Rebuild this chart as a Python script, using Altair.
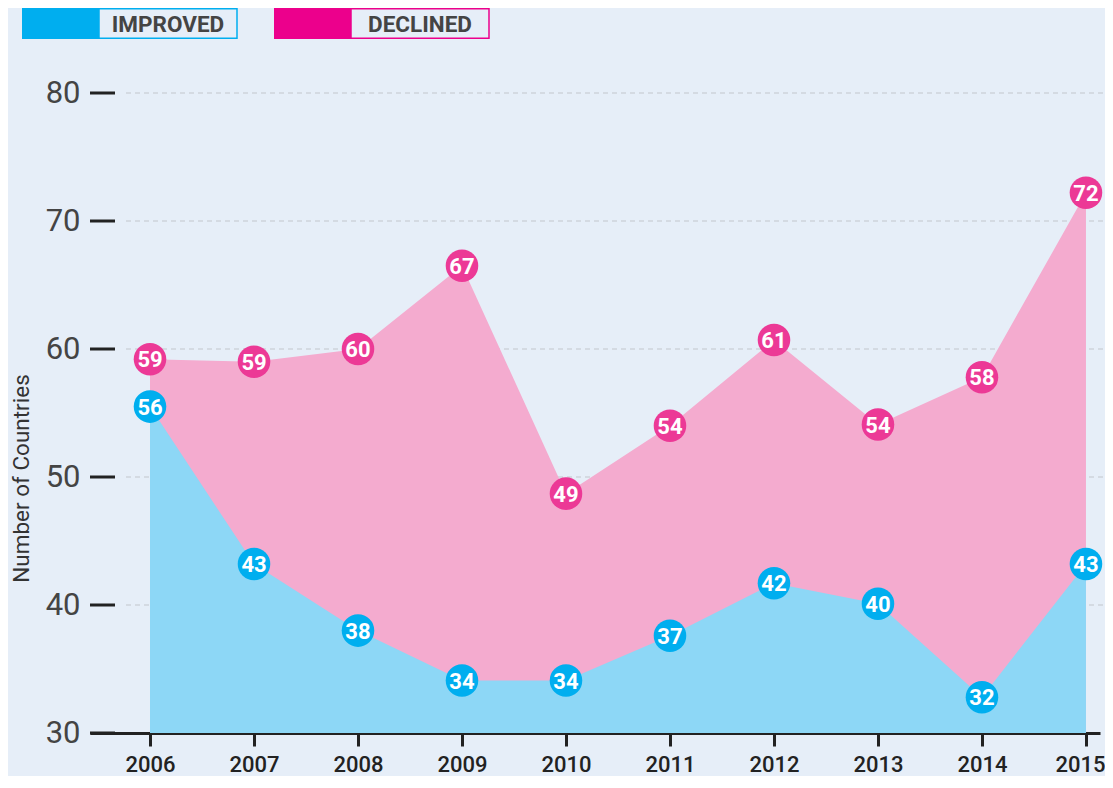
import altair as alt
import pandas as pd

years = [2006, 2007, 2008, 2009, 2010, 2011, 2012, 2013, 2014, 2015]
improved = [55.5, 43.2, 38.0, 34.1, 34.1, 37.6, 41.7, 40.1, 32.8, 43.2]
declined = [59.2, 59.0, 60.0, 66.5, 48.7, 54.0, 60.7, 54.1, 57.8, 72.2]
improved_labels = ["56", "43", "38", "34", "34", "37", "42", "40", "32", "43"]
declined_labels = ["59", "59", "60", "67", "49", "54", "61", "54", "58", "72"]
y_ticks = [30, 40, 50, 60, 70, 80]
grid_ticks = [40, 50, 60, 70, 80]

BG = "#e6eef8"
BLUE = "#00aeef"
BLUE_AREA = "#8dd7f6"
PINK = "#ec3996"
PINK_AREA = "#f4abcf"
PINK_LEGEND = "#ec008c"
FONT = "Roboto"

W, H = 1010, 640
TOP = 85

df = pd.DataFrame({
    "year": years,
    "improved": improved,
    "declined": declined,
    "imp_lab": improved_labels,
    "dec_lab": declined_labels,
})
grid_df = pd.DataFrame({"v": grid_ticks})
tick_df = pd.DataFrame({"v": y_ticks})

xscale = alt.Scale(domain=[2005.423, 2015.135], nice=False, zero=False)
yscale = alt.Scale(domain=[30, 80], nice=False, zero=False)

x_axis = alt.Axis(
    values=years, format="d", title=None, grid=False,
    domainColor="#222222", domainWidth=3,
    tickColor="#222222", tickWidth=3, tickSize=13,
    labelFont=FONT, labelFontSize=22, labelFontWeight=500, labelColor="#222222",
    labelPadding=8, labelBound=False, labelOverlap=False,
    labelOffset={"condition": {"test": "datum.value == 2015", "value": -6}, "value": 0},
)
y_axis = alt.Axis(
    values=y_ticks, title="Number of Countries", grid=False, domain=False, ticks=False,
    labelFont=FONT, labelFontSize=31, labelColor="#444444", labelPadding=10,
    titleFont=FONT, titleFontSize=22.5, titleFontWeight="normal", titleColor="#333333",
    titleX=-80, titleY=385, titleAlign="center", titleBaseline="top",
)

base = alt.Chart(df)

grid = alt.Chart(grid_df).mark_rule(
    color="#c2c6cc", strokeDash=[5, 4], strokeWidth=1
).encode(
    y=alt.Y("v:Q", scale=yscale, axis=y_axis),
    x=alt.value(36), x2=alt.value(W + 6),
)

yticks = alt.Chart(tick_df).mark_rule(color="#222222", strokeWidth=3).encode(
    y=alt.Y("v:Q", scale=yscale),
    x=alt.value(0), x2=alt.value(25),
)

pink_area = base.mark_area(color=PINK_AREA, opacity=1).encode(
    x=alt.X("year:Q", scale=xscale, axis=x_axis),
    y=alt.Y("declined:Q", scale=yscale),
    y2=alt.datum(30),
)
blue_area = base.mark_area(color=BLUE_AREA, opacity=1).encode(
    x=alt.X("year:Q", scale=xscale),
    y=alt.Y("improved:Q", scale=yscale),
    y2=alt.datum(30),
)

dec_dots = base.mark_circle(color=PINK, opacity=1, size=1060).encode(
    x=alt.X("year:Q", scale=xscale), y=alt.Y("declined:Q", scale=yscale),
)
imp_dots = base.mark_circle(color=BLUE, opacity=1, size=1060).encode(
    x=alt.X("year:Q", scale=xscale), y=alt.Y("improved:Q", scale=yscale),
)
dec_text = base.mark_text(
    color="white", font=FONT, fontSize=22, fontWeight="bold", baseline="middle", align="center", dy=1
).encode(
    x=alt.X("year:Q", scale=xscale), y=alt.Y("declined:Q", scale=yscale), text="dec_lab:N",
)
imp_text = base.mark_text(
    color="white", font=FONT, fontSize=22, fontWeight="bold", baseline="middle", align="center", dy=1
).encode(
    x=alt.X("year:Q", scale=xscale), y=alt.Y("improved:Q", scale=yscale), text="imp_lab:N",
)

# legend (drawn above plot area; pixel offsets relative to plot origin)
legend_items = [("IMPROVED", BLUE, -68), ("DECLINED", PINK_LEGEND, 184)]
legend_layers = []
leg_df = pd.DataFrame({"k": [0]})
for label, col, x0 in legend_items:
    top, bot = -TOP, -TOP + 31
    fill = alt.Chart(leg_df).mark_rect(color=col).encode(
        x=alt.value(x0), x2=alt.value(x0 + 77), y=alt.value(top), y2=alt.value(bot)
    )
    box = alt.Chart(leg_df).mark_rect(fill=BG, stroke=col, strokeWidth=1.5).encode(
        x=alt.value(x0 + 77), x2=alt.value(x0 + 215),
        y=alt.value(top + 0.75), y2=alt.value(bot - 0.75)
    )
    txt = alt.Chart(leg_df).mark_text(
        text=label, font=FONT, fontSize=22.5, fontWeight="bold", color="#444444",
        align="center", baseline="middle"
    ).encode(x=alt.value(x0 + 146), y=alt.value((top + bot) / 2 + 1))
    legend_layers += [fill, box, txt]

chart = alt.layer(
    grid, pink_area, blue_area, yticks, dec_dots, imp_dots, dec_text, imp_text, *legend_layers
).properties(
    width=W, height=H,
    autosize=alt.AutoSizeParams(type="none"),
    padding={"left": 82, "top": TOP, "right": 5, "bottom": 43},
    background=BG,
).configure_view(stroke=None)

chart.save("out.html", embed_options={"renderer": "svg", "actions": False})
